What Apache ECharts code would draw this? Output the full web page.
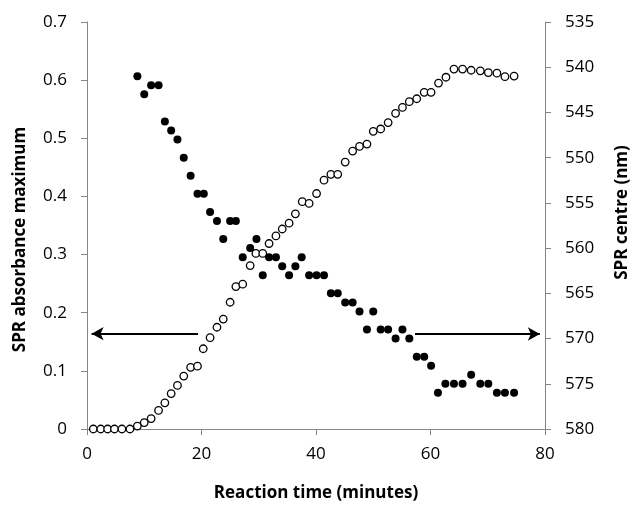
<!DOCTYPE html>
<html>
<head>
<meta charset="utf-8">
<script src="https://cdn.jsdelivr.net/npm/echarts@6/dist/echarts.min.js"></script>
<style>
  html, body { margin: 0; padding: 0; background: #fff; }
  #chart { width: 631px; height: 508px; }
</style>
</head>
<body>
<div id="chart"></div>
<script>
// SPR absorbance maximum (open circles, left axis)
const absTime = [1.1, 2.4, 3.6, 4.8, 6.1, 7.5, 8.8, 10.0, 11.2, 12.5,
  13.6, 14.7, 15.8, 16.9, 18.1, 19.3, 20.3, 21.5, 22.7, 23.8,
  25.0, 26.0, 27.2, 28.5, 29.5, 30.7, 31.8, 33.0, 34.1, 35.3,
  36.4, 37.6, 38.8, 40.1, 41.4, 42.6, 43.8, 45.1, 46.4, 47.6,
  48.9, 50.0, 51.3, 52.6, 53.9, 55.1, 56.3, 57.6, 58.9, 60.1,
  61.4, 62.7, 64.1, 65.6, 67.1, 68.7, 70.1, 71.6, 73.0, 74.6]
const absValue = [0, 0, 0, 0, 0, 0, 0.005, 0.011, 0.018, 0.032,
  0.045, 0.061, 0.075, 0.091, 0.106, 0.108, 0.138, 0.157, 0.175, 0.189,
  0.218, 0.245, 0.249, 0.281, 0.302, 0.302, 0.319, 0.332, 0.344, 0.354,
  0.370, 0.391, 0.388, 0.405, 0.428, 0.438, 0.438, 0.459, 0.478, 0.486,
  0.490, 0.512, 0.516, 0.527, 0.543, 0.553, 0.563, 0.568, 0.579, 0.579,
  0.595, 0.605, 0.619, 0.619, 0.617, 0.616, 0.613, 0.612, 0.606, 0.607]

// SPR centre in nm (filled circles, right axis, inverted)
const centreTime = [8.8, 10.0, 11.2, 12.5, 13.6, 14.7, 15.8, 16.9, 18.1, 19.3,
  20.4, 21.5, 22.7, 23.8, 25.0, 26.0, 27.2, 28.5, 29.6, 30.7,
  31.8, 33.0, 34.1, 35.3, 36.4, 37.5, 38.8, 40.1, 41.4, 42.6,
  43.8, 45.1, 46.4, 47.6, 48.9, 50.0, 51.3, 52.6, 53.9, 55.1,
  56.3, 57.6, 58.9, 60.1, 61.3, 62.6, 64.1, 65.6, 67.1, 68.7,
  70.1, 71.6, 73.0, 74.6]
const centreNm = [541, 543, 542, 542, 546, 547, 548, 550, 552, 554,
  554, 556, 557, 559, 557, 557, 561, 560, 559, 563,
  561, 561, 562, 563, 562, 561, 563, 563, 563, 565,
  565, 566, 566, 567, 569, 567, 569, 569, 570, 569,
  570, 572, 572, 573, 576, 575, 575, 575, 574, 575,
  575, 576, 576, 576]

// arrows pointing to each series' axis
const leftArrow = [[19.4, 0.164], [0.8, 0.164]]
const rightArrow = [[57.3, 569.5], [79.1, 569.5]]

const font = 'Open Sans'
const axisGray = '#868686'

function zip(xs, ys) {
  return xs.map((x, i) => [x, ys[i]])
}

const myChart = echarts.init(document.getElementById('chart'))

myChart.setOption({
  animation: false,
  grid: { left: 87, right: 86, top: 22, bottom: 79, containLabel: false, outerBoundsMode: 'none' },
  textStyle: { fontFamily: font },
  xAxis: {
    type: 'value',
    min: 0, max: 80, interval: 20,
    name: 'Reaction time (minutes)',
    nameLocation: 'middle',
    nameGap: 56,
    nameTextStyle: { fontFamily: font, fontSize: 17, fontWeight: 'bold', color: '#000' },
    axisLine: { show: true, lineStyle: { color: axisGray, width: 1 } },
    axisTick: { show: true, inside: false, length: 6, lineStyle: { color: axisGray } },
    axisLabel: { fontFamily: font, fontSize: 17, color: '#000', margin: 17 },
    splitLine: { show: false }
  },
  yAxis: [
    {
      type: 'value',
      position: 'left',
      min: 0, max: 0.7, interval: 0.1,
      name: 'SPR absorbance maximum',
      nameLocation: 'middle',
      nameGap: 58,
      nameTextStyle: { fontFamily: font, fontSize: 17, fontWeight: 'bold', color: '#000', padding: [0, 28, 0, 0] },
      axisLine: { show: true, lineStyle: { color: axisGray, width: 1 } },
      axisTick: { show: true, length: 6, lineStyle: { color: axisGray } },
      axisLabel: { fontFamily: font, fontSize: 17, color: '#000', margin: 20 },
      splitLine: { show: false }
    },
    {
      type: 'value',
      position: 'right',
      inverse: true,
      min: 535, max: 580, interval: 5,
      name: 'SPR centre (nm)',
      nameLocation: 'middle',
      nameGap: 69,
      nameTextStyle: { fontFamily: font, fontSize: 17, fontWeight: 'bold', color: '#000', padding: [0, 0, 0, 26] },
      axisLine: { show: true, lineStyle: { color: axisGray, width: 1 } },
      axisTick: { show: true, length: 6, lineStyle: { color: axisGray } },
      axisLabel: { fontFamily: font, fontSize: 17, color: '#000', margin: 20 },
      splitLine: { show: false }
    }
  ],
  series: [
    {
      name: 'SPR absorbance maximum',
      type: 'scatter',
      yAxisIndex: 0,
      symbol: 'circle',
      symbolSize: 7.5,
      itemStyle: { color: '#fff', borderColor: '#000', borderWidth: 1.3, opacity: 1 },
      data: zip(absTime, absValue),
      markLine: {
        silent: true,
        symbol: ['none', 'arrow'],
        symbolSize: [10, 12],
        label: { show: false },
        lineStyle: { color: '#000', width: 2, type: 'solid' },
        data: [[{ coord: leftArrow[0] }, { coord: leftArrow[1] }]]
      }
    },
    {
      name: 'SPR centre',
      type: 'scatter',
      yAxisIndex: 1,
      symbol: 'circle',
      symbolSize: 8,
      itemStyle: { color: '#000', opacity: 1 },
      data: zip(centreTime, centreNm),
      markLine: {
        silent: true,
        symbol: ['none', 'arrow'],
        symbolSize: [10, 12],
        label: { show: false },
        lineStyle: { color: '#000', width: 2, type: 'solid' },
        data: [[{ coord: rightArrow[0] }, { coord: rightArrow[1] }]]
      }
    }
  ]
})
</script>
</body>
</html>
